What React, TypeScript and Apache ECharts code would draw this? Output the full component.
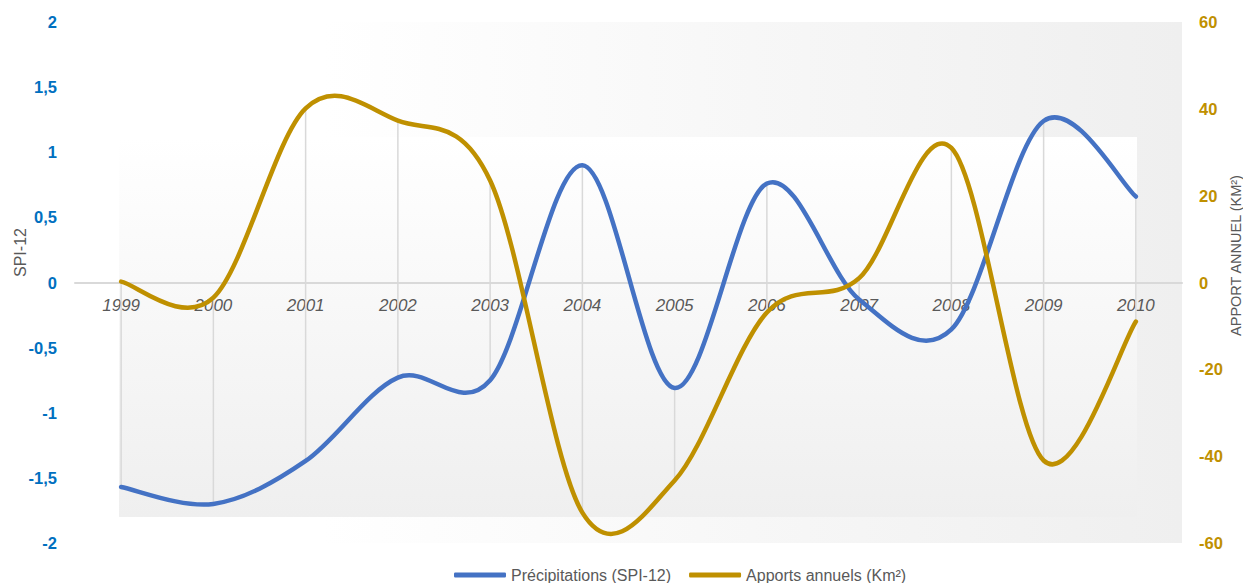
import React, { useEffect, useRef } from "react";
import * as echarts from "echarts";

const years = ["1999", "2000", "2001", "2002", "2003", "2004", "2005", "2006", "2007", "2008", "2009", "2010"];
const spi12 = [-1.57, -1.70, -1.37, -0.73, -0.75, 0.90, -0.81, 0.76, -0.13, -0.36, 1.24, 0.66];
const apports = [0.2, -3.5, 40.1, 37.3, 23.5, -53, -45.6, -6.9, 1, 31, -41, -9];
const spiTicks = [-2, 2, 0.5];
const apportTicks = [-60, 60, 20];

const BLUE = "#4472C4";
const GOLD = "#BF9000";
const GREY_TXT = "#595959";
const FONT = "'Liberation Sans', Arial, sans-serif";

const W = 1243;
const H = 583;
const GRID = { left: 75, right: 61, top: 22, bottom: 40 };

// Excel-like smoothed line (Catmull-Rom through every point), positioned via the axes.
function smoothRenderer(values: number[], color: string) {
  return (params: any, api: any) => {
    if (params.dataIndex !== 0) return null;
    const pts = values.map((v, i) => api.coord([i, v]));
    const n = pts.length;
    let d = `M${pts[0][0]},${pts[0][1]}`;
    for (let i = 0; i < n - 1; i++) {
      const p0 = pts[Math.max(i - 1, 0)];
      const p1 = pts[i];
      const p2 = pts[i + 1];
      const p3 = pts[Math.min(i + 2, n - 1)];
      const c1x = p1[0] + (p2[0] - p0[0]) / 6;
      const c1y = p1[1] + (p2[1] - p0[1]) / 6;
      const c2x = p2[0] - (p3[0] - p1[0]) / 6;
      const c2y = p2[1] - (p3[1] - p1[1]) / 6;
      d += ` C${c1x},${c1y} ${c2x},${c2y} ${p2[0]},${p2[1]}`;
    }
    return {
      type: "path",
      shape: { pathData: d },
      style: { fill: "none", stroke: color, lineWidth: 4.5, lineCap: "round", lineJoin: "round" },
    };
  };
}

export default function App() {
  const ref = useRef<HTMLDivElement>(null);
  useEffect(() => {
    document.body.style.margin = "0";
    if (!ref.current) return;
    const chart = echarts.init(ref.current, null, { renderer: "svg" });
    const ratio = spiTicks[1] / apportTicks[1];
    const hiLo = years.map((y, i) => [i, spi12[i], apports[i] * ratio]);
    const plotH = H - GRID.top - GRID.bottom;
    // move the category axis up to the value 0 of the SPI axis
    const zeroOffset = -plotH * (0 - spiTicks[0]) / (spiTicks[1] - spiTicks[0]);
    chart.setOption({
      animation: false,
      textStyle: { fontFamily: FONT },
      graphic: [
        {
          type: "rect",
          z: -100,
          silent: true,
          shape: { x: 324, y: 22, width: 858, height: 521 },
          style: {
            fill: new echarts.graphic.LinearGradient(0, 0, 1, 0, [
              { offset: 0, color: "#ffffff" },
              { offset: 1, color: "#efefef" },
            ]),
          },
        },
        {
          type: "rect",
          z: -99,
          silent: true,
          shape: { x: 119, y: 137, width: 1018, height: 380 },
          style: {
            fill: new echarts.graphic.LinearGradient(0, 0, 0, 1, [
              { offset: 0, color: "#ffffff" },
              { offset: 1, color: "#efefef" },
            ]),
          },
        },
      ],
      grid: { ...GRID, outerBoundsMode: "none", containLabel: false },
      legend: {
        left: 449,
        top: 562,
        itemGap: 18,
        itemWidth: 52,
        itemHeight: 5,
        icon: "roundRect",
        textStyle: { color: GREY_TXT, fontSize: 16, fontFamily: FONT },
        data: [
          { name: "Précipitations (SPI-12)", itemStyle: { color: BLUE } },
          { name: "Apports annuels (Km²)", itemStyle: { color: GOLD } },
        ],
      },
      xAxis: {
        type: "category",
        data: years,
        boundaryGap: true,
        position: "bottom",
        offset: zeroOffset,
        axisLine: { onZero: false, lineStyle: { color: "#d9d9d9", width: 2 } },
        axisTick: { show: false },
        splitLine: { show: false },
        axisLabel: {
          color: GREY_TXT,
          fontSize: 17,
          fontStyle: "italic",
          fontFamily: FONT,
          margin: 14,
        },
      },
      yAxis: [
        {
          type: "value",
          min: spiTicks[0],
          max: spiTicks[1],
          interval: spiTicks[2],
          position: "left",
          name: "SPI-12",
          nameLocation: "middle",
          nameRotate: 90,
          nameGap: 47,
          nameMoveOverlap: false,
          nameTextStyle: { color: GREY_TXT, fontSize: 16, fontFamily: FONT, padding: [0, 0, 0, 60] },
          axisLine: { show: false },
          axisTick: { show: false },
          splitLine: { show: false },
          axisLabel: {
            color: "#0070C0",
            fontWeight: "bold",
            fontSize: 16.5,
            fontFamily: FONT,
            margin: 18,
            formatter: (v: number) => String(v).replace(".", ","),
          },
        },
        {
          type: "value",
          min: apportTicks[0],
          max: apportTicks[1],
          interval: apportTicks[2],
          position: "right",
          name: "APPORT ANNUEL (KM²)",
          nameLocation: "middle",
          nameRotate: 90,
          nameGap: 46,
          nameMoveOverlap: false,
          nameTextStyle: { color: GREY_TXT, fontSize: 14.5, fontFamily: FONT, padding: [0, 0, 0, 54] },
          axisLine: { show: false },
          axisTick: { show: false },
          splitLine: { show: false },
          axisLabel: {
            color: GOLD,
            fontWeight: "bold",
            fontSize: 16.5,
            fontFamily: FONT,
            margin: 17,
          },
        },
      ],
      series: [
        {
          type: "custom",
          name: "hilo",
          yAxisIndex: 0,
          z: 1,
          silent: true,
          encode: { x: 0, y: [1, 2] },
          data: hiLo,
          renderItem: (params: any, api: any) => {
            const p1 = api.coord([api.value(0), api.value(1)]);
            const p2 = api.coord([api.value(0), api.value(2)]);
            return {
              type: "line",
              shape: { x1: p1[0], y1: p1[1], x2: p2[0], y2: p2[1] },
              style: { stroke: "#d9d9d9", lineWidth: 1.5 },
            };
          },
        },
        {
          type: "custom",
          name: "Précipitations (SPI-12)",
          yAxisIndex: 0,
          z: 3,
          silent: true,
          itemStyle: { color: BLUE },
          encode: { x: 0, y: 1 },
          data: spi12.map((v, i) => [i, v]),
          renderItem: smoothRenderer(spi12, BLUE),
        },
        {
          type: "custom",
          name: "Apports annuels (Km²)",
          yAxisIndex: 1,
          z: 4,
          silent: true,
          itemStyle: { color: GOLD },
          encode: { x: 0, y: 1 },
          data: apports.map((v, i) => [i, v]),
          renderItem: smoothRenderer(apports, GOLD),
        },
      ],
    });
    return () => chart.dispose();
  }, []);
  return <div ref={ref} style={{ width: W, height: H }} />;
}
